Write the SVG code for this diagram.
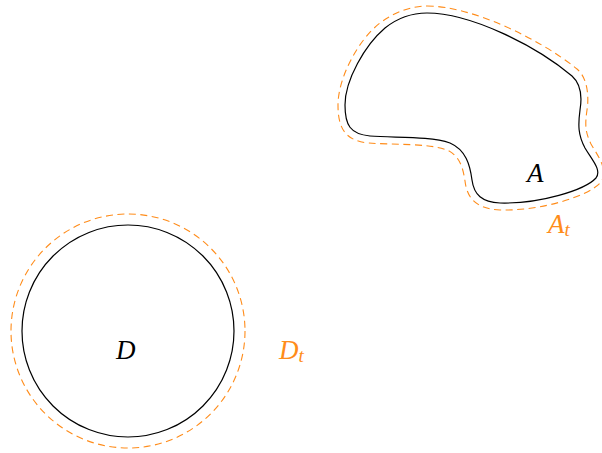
<svg xmlns="http://www.w3.org/2000/svg" width="602" height="453" viewBox="0 0 602 453">
<style>
.solid{fill:none;stroke:#000;stroke-width:1.2}
.dash{fill:none;stroke:#ff8c1a;stroke-width:1.1;stroke-dasharray:7 4.5}
.lbl{font-family:"Liberation Serif",serif;font-style:italic;font-size:27px}
.or{fill:#ff8c1a}
.sub{font-size:19px}
</style>
<g id="D">
<circle class="solid" cx="128" cy="331" r="106"/>
<text class="lbl" x="116" y="359">D</text>
</g>
<g id="Dt">
<circle class="dash" cx="128" cy="331" r="117"/>
<text class="lbl or" x="279" y="359">D<tspan class="sub" dy="3">t</tspan></text>
</g>
<g id="A">
<path class="solid" d="M 427,13 C 470,13 535,45 572,76 C 581,84 582,98 580,110 C 578,125 578,135 585,148 C 592,160 602,170 596,178 C 585,190 540,204 500,203 C 482,202 474,195 472,180 C 470,165 466,150 450,143 C 430,136 395,138 370,136 C 350,134 345,125 345,105 C 345,80 365,45 385,28 C 400,16 415,13 427,13 Z"/>
<text class="lbl" x="527" y="182">A</text>
</g>
<g id="At">
<path class="dash" d="M 427,6 C 472,6 540,39 577,69 C 588,78 589,98 587,110 C 585,124 585,132 591,144 C 598,156 610,172 600,183 C 588,196 542,211 500,210 C 476,209 467,198 465,181 C 463,168 460,156 447,150 C 428,143 394,145 369,143 C 345,141 338,128 338,105 C 338,78 358,40 380,23 C 396,11 413,6 427,6 Z"/>
<text class="lbl or" x="548" y="233">A<tspan class="sub" dy="3">t</tspan></text>
</g>
<g id="connectors"/>
</svg>
